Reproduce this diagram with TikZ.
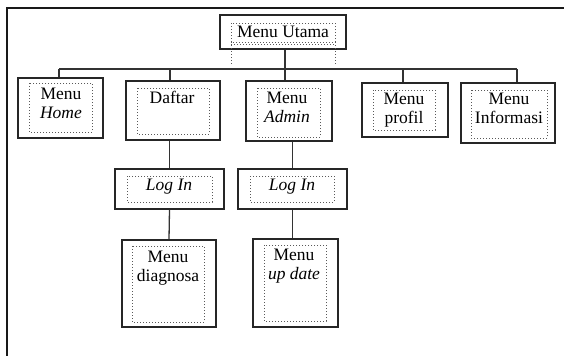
\documentclass[tikz,border=0pt]{standalone}
\usepackage{fontspec}
\setmainfont{Liberation Serif}
\usetikzlibrary{fit}
\begin{document}
\begin{tikzpicture}[x=1pt,y=-1pt,
  obox/.style={draw=black!85, line width=1.5pt, inner sep=0pt, rectangle},
  ibox/.style={draw=black!65, dotted, line width=1pt},
  conn/.style={draw=black!80, line width=1.3pt},
  frame/.style={draw=black!90, line width=1.9pt},
  lbl/.style={anchor=north, inner sep=0pt, align=center, text=black,
    font=\fontsize{17.5}{19}\selectfont}]
\useasboundingbox (0,0) rectangle (564,356);
% outer frame (cut at right and bottom)
\coordinate (fTR) at (564,8);
\coordinate (fTL) at (7,8);
\coordinate (fBL) at (7,356);
\draw[frame] (fTR) -- (fTL) -- (fBL);
% outer boxes
\node[obox, fit={(220,15) (346,49)}] (utama) {};
\node[obox, fit={(18,78) (103,138)}] (home) {};
\node[obox, fit={(126,81) (220,140)}] (daftar) {};
\node[obox, fit={(246,81) (332,141)}] (admin) {};
\node[obox, fit={(362,83) (448,137)}] (profil) {};
\node[obox, fit={(461,83) (555,143)}] (info) {};
\node[obox, fit={(115,169) (224,209)}] (login1) {};
\node[obox, fit={(238,169) (347,209)}] (login2) {};
\node[obox, fit={(122,240) (216,327)}] (diag) {};
\node[obox, fit={(253,239) (338,327)}] (update) {};
% inner dotted boxes
\draw[ibox] (231,23) rectangle (335,42);
\draw[ibox] (231,44) -- (335,44);
\draw[ibox] (231,42) -- (231,64);
\draw[ibox] (335,42) -- (335,64);
\draw[ibox] (29,83) rectangle (92,132);
\draw[ibox] (137,88) rectangle (209,134);
\draw[ibox] (257,88) rectangle (320,137);
\draw[ibox] (373,90) rectangle (435,130);
\draw[ibox] (471,90) rectangle (547,138);
\draw[ibox] (127,176) rectangle (212,202);
\draw[ibox] (250,176) rectangle (334,202);
\draw[ibox] (132,246) rectangle (204,322);
\draw[ibox] (264,245) rectangle (326,321);
% labels
\node[lbl] (t-utama) at (283,26) {Menu Utama};
\node[lbl] (t-home) at (61,88) {Menu\\\textit{Home}};
\node[lbl] (t-daftar) at (172,91) {Daftar};
\node[lbl] (t-admin) at (287,92) {Menu\\\textit{Admin}};
\node[lbl] (t-profil) at (404,93) {Menu\\profil};
\node[lbl] (t-info) at (509,93) {Menu\\Informasi};
\node[lbl] (t-login1) at (169,179) {\textit{Log In}};
\node[lbl] (t-login2) at (292,179) {\textit{Log In}};
\node[lbl] (t-diag) at (168,251) {Menu\\diagnosa};
\node[lbl] (t-update) at (294,249) {Menu\\\textit{up date}};
% connectors
\coordinate (busL) at (59,69);
\coordinate (busR) at (517,69);
\draw[conn] (busL) -- (busR);
\draw[conn] ([xshift=2pt]utama.south) -- ([xshift=2pt]utama.south |- busL);
\draw[conn] (busL) -- (busL |- home.north);
\draw[conn] ([xshift=-3pt]daftar.north) -- ([xshift=-3pt]daftar.north |- busL);
\draw[conn] ([xshift=2pt]utama.south |- admin.north) -- ([xshift=2pt]utama.south |- busL);
\draw[conn] ([xshift=-2pt]profil.north) -- ([xshift=-2pt]profil.north |- busL);
\draw[conn] (busR) -- (busR |- info.north);
\draw[conn] (login1.north |- daftar.south) -- (login1.north);
\draw[conn] (login1.south) -- (diag.north);
\draw[conn] (login2.north |- admin.south) -- (login2.north);
\draw[conn] (login2.south) -- (login2.south |- update.north);
\end{tikzpicture}
\end{document}
